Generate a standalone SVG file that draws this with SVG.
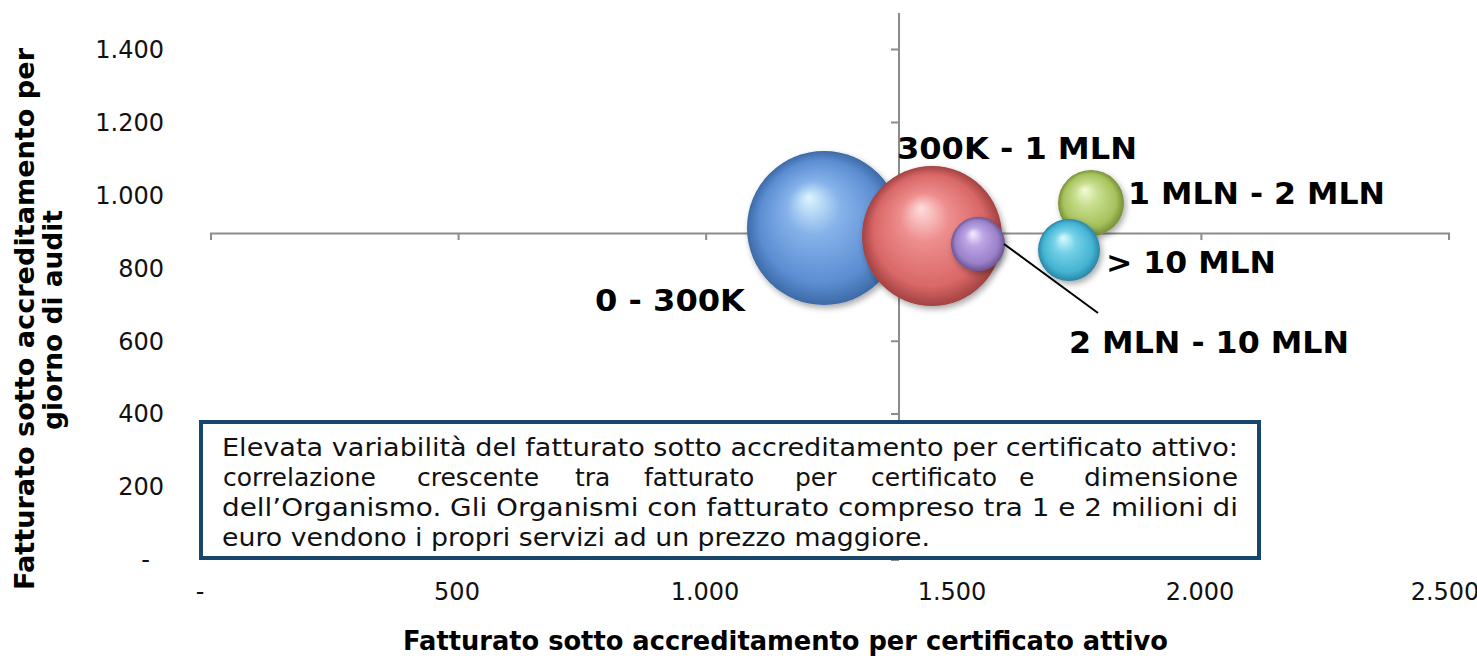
<svg xmlns="http://www.w3.org/2000/svg" width="1477" height="656" viewBox="0 0 1477 656">
<style>
.tick{font-family:"DejaVu Sans","Liberation Sans",sans-serif;font-size:24px;fill:#111}
.title{font-family:"DejaVu Sans","Liberation Sans",sans-serif;font-weight:bold;font-size:26px;fill:#000}
.lbl{font-family:"DejaVu Sans","Liberation Sans",sans-serif;font-weight:bold;font-size:31px;fill:#000}
.box{font-family:"DejaVu Sans","Liberation Sans",sans-serif;font-size:25px;fill:#111}
.axis{stroke:#8c8c8c;stroke-width:2;fill:none}
</style>
<defs>
<filter id="sh" x="-30%" y="-30%" width="160%" height="160%">
<feGaussianBlur in="SourceAlpha" stdDeviation="3"/>
<feOffset dx="2" dy="3" result="b"/>
<feComponentTransfer><feFuncA type="linear" slope="0.35"/></feComponentTransfer>
<feMerge><feMergeNode/><feMergeNode in="SourceGraphic"/></feMerge>
</filter>
<radialGradient id="gBlue" cx="50%" cy="50%" r="50%" fx="40%" fy="30%">
<stop offset="0" stop-color="#dcf6ff"/><stop offset="0.35" stop-color="#86b2ea"/><stop offset="0.8" stop-color="#5b8dd2"/><stop offset="1" stop-color="#3e6aa6"/>
</radialGradient>
<radialGradient id="gRed" cx="50%" cy="50%" r="50%" fx="42%" fy="30%">
<stop offset="0" stop-color="#ffdede"/><stop offset="0.35" stop-color="#ee8d8d"/><stop offset="0.8" stop-color="#d96767"/><stop offset="1" stop-color="#a34242"/>
</radialGradient>
<radialGradient id="gPurple" cx="50%" cy="50%" r="50%" fx="40%" fy="30%">
<stop offset="0" stop-color="#f6ecff"/><stop offset="0.35" stop-color="#bba4e4"/><stop offset="0.8" stop-color="#9a80c8"/><stop offset="1" stop-color="#6a5494"/>
</radialGradient>
<radialGradient id="gGreen" cx="50%" cy="50%" r="50%" fx="40%" fy="30%">
<stop offset="0" stop-color="#f4fcd8"/><stop offset="0.35" stop-color="#c8de8e"/><stop offset="0.8" stop-color="#a6c25c"/><stop offset="1" stop-color="#768f36"/>
</radialGradient>
<radialGradient id="gCyan" cx="50%" cy="50%" r="50%" fx="40%" fy="30%">
<stop offset="0" stop-color="#dcfbff"/><stop offset="0.35" stop-color="#74d2e8"/><stop offset="0.8" stop-color="#44b3d2"/><stop offset="1" stop-color="#2a85a5"/>
</radialGradient>
</defs>
<rect width="1477" height="656" fill="#fff"/>
<g id="axes">
<path class="axis" d="M899 13V560M891 49.5H899M891 122.4H899M891 195.4H899M891 268.3H899M891 341.2H899M891 414.1H899M891 487.1H899M891 560H899"/>
<path class="axis" d="M211 240V233.5H1449V240M458.6 233.5V240M706.2 233.5V240M953.8 233.5V240M1201.4 233.5V240"/>
</g>
<g id="y-ticks" class="tick" text-anchor="end">
<text x="164" y="58">1.400</text>
<text x="164" y="131">1.200</text>
<text x="164" y="204">1.000</text>
<text x="164" y="277">800</text>
<text x="164" y="350">600</text>
<text x="164" y="422">400</text>
<text x="164" y="495">200</text>
<text x="150" y="568">-</text>
</g>
<g id="x-ticks" class="tick" text-anchor="middle">
<text x="200" y="600">-</text>
<text x="457" y="600">500</text>
<text x="705" y="600">1.000</text>
<text x="952" y="600">1.500</text>
<text x="1200" y="600">2.000</text>
<text x="1445" y="600">2.500</text>
</g>
<g id="x-title"><text class="title" x="403" y="650" textLength="765" lengthAdjust="spacingAndGlyphs">Fatturato sotto accreditamento per certificato attivo</text></g>
<g id="y-title" class="title" text-anchor="middle">
<text transform="translate(34,319) rotate(-90)" textLength="542" lengthAdjust="spacingAndGlyphs">Fatturato sotto accreditamento per</text>
<text transform="translate(62,320) rotate(-90)" textLength="220" lengthAdjust="spacingAndGlyphs">giorno di audit</text>
</g>
<g id="bubble-0-300K"><circle cx="824" cy="228" r="77" fill="url(#gBlue)" filter="url(#sh)"/></g>
<g id="bubble-300K-1MLN"><circle cx="932" cy="236" r="70" fill="url(#gRed)" filter="url(#sh)"/></g>
<g id="bubble-2MLN-10MLN"><circle cx="978" cy="244" r="27" fill="url(#gPurple)" filter="url(#sh)"/></g>
<g id="bubble-1MLN-2MLN"><circle cx="1091" cy="203" r="33" fill="url(#gGreen)" filter="url(#sh)"/></g>
<g id="bubble-10MLN"><circle cx="1069" cy="250" r="31" fill="url(#gCyan)" filter="url(#sh)"/></g>
<g id="connectors"><line x1="1004" y1="244" x2="1098" y2="313" stroke="#000" stroke-width="2"/></g>
<g id="labels" class="lbl">
<text x="897" y="159" textLength="240" lengthAdjust="spacingAndGlyphs">300K - 1 MLN</text>
<text x="1128" y="204" textLength="257" lengthAdjust="spacingAndGlyphs">1 MLN - 2 MLN</text>
<text x="1106" y="273" textLength="170" lengthAdjust="spacingAndGlyphs">&gt; 10 MLN</text>
<text x="1069" y="353" textLength="280" lengthAdjust="spacingAndGlyphs">2 MLN - 10 MLN</text>
<text x="595" y="311" textLength="150" lengthAdjust="spacingAndGlyphs">0 - 300K</text>
</g>
<g id="note">
<rect x="201" y="422" width="1058" height="136" fill="#fff" stroke="#17456b" stroke-width="4"/>
<g class="box">
<text x="222" y="456" textLength="1016" lengthAdjust="spacingAndGlyphs">Elevata variabilità del fatturato sotto accreditamento per certificato attivo:</text>
<text y="486"><tspan x="223">correlazione</tspan><tspan x="417">crescente</tspan><tspan x="575">tra</tspan><tspan x="644">fatturato</tspan><tspan x="795">per</tspan><tspan x="871">certificato</tspan><tspan x="1019">e</tspan><tspan x="1084" textLength="154" lengthAdjust="spacingAndGlyphs">dimensione</tspan></text>
<text x="222" y="516" textLength="1016" lengthAdjust="spacingAndGlyphs">dell’Organismo. Gli Organismi con fatturato compreso tra 1 e 2 milioni di</text>
<text x="222" y="546" textLength="708" lengthAdjust="spacingAndGlyphs">euro vendono i propri servizi ad un prezzo maggiore.</text>
</g>
</g>
</svg>
